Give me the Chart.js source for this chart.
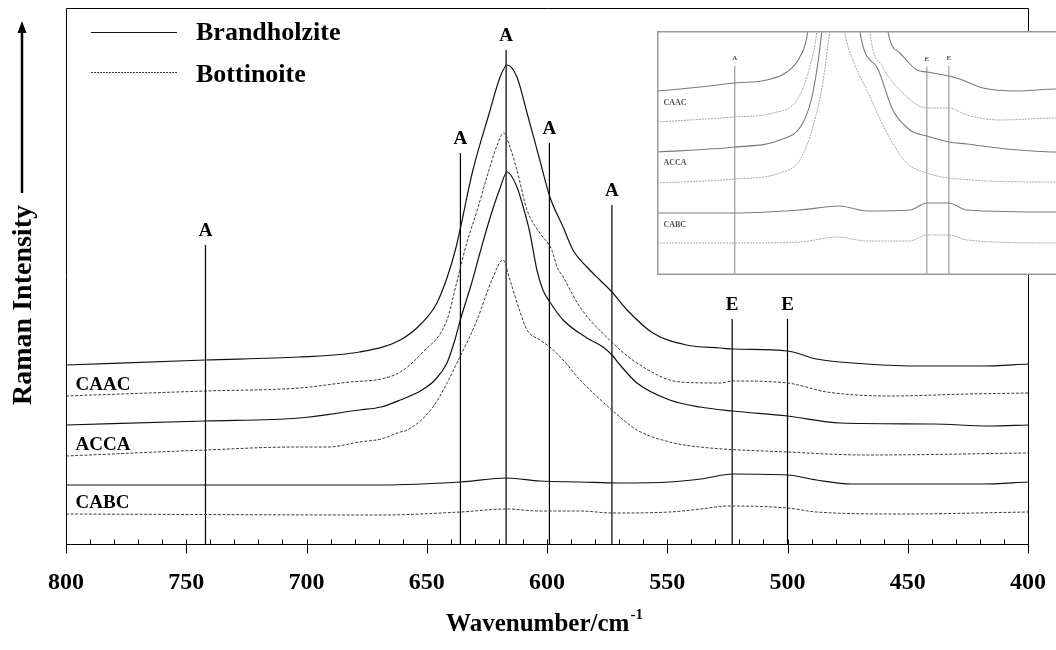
<!DOCTYPE html>
<html>
<head>
<meta charset="utf-8">
<script src="https://cdn.jsdelivr.net/npm/chart.js@4.4.0/dist/chart.umd.min.js"></script>
<style>
html,body{margin:0;padding:0;background:#fff;overflow:hidden;}
#wrap{position:relative;width:1056px;height:650px;overflow:hidden;background:#fff;}
#main{position:absolute;left:0;top:0;}
#inset{position:absolute;left:657px;top:31px;background:#fff;}
</style>
</head>
<body>
<div id="wrap">
<canvas id="main" width="1056" height="650"></canvas>
<canvas id="inset" width="420" height="244"></canvas>
</div>
<script>
// ---------------- data (wavenumber in cm-1, intensity in arbitrary offset units) ----------------
const xTickValues = [800, 750, 700, 650, 600, 550, 500, 450, 400];
const seriesNames = ['Brandholzite', 'Bottinoite'];
const sampleNames = ['CAAC', 'ACCA', 'CABC'];
const sampleLabelLevel = [159, 99, 41];

const caacBrandWave = [800,742,703,678,661,652,646,641.6,638,636,631,624,619.5,616.6,612.5,608.3,603,598.8,593.3,589.2,583.4,578,573,566.7,556,542,528,522.7,500,488,467,444,419,400];
const caacBrandInt  = [179,184,187,192,204,221,240,266,295,316,372,431,467,479,467,431,384,347,317,294,277,264,252,234,211,199,196,195,193,185,180,178,178,180];

const caacBottWave = [800,742,703,682,669,661,652,641.6,637.5,633.5,629,625,621,618,615.4,612.5,608.3,603,598,595.8,593.3,586.3,574,562.6,544.7,528,522.7,500,483.6,457,425,400];
const caacBottInt  = [148,153,156,162,165,172,191,224,262,300,334,367,397,411,397,374,334,311,294,277,267,237,204,181,162,161,163,161,152,148,150,151];

const accaBrandWave = [800,742,703,678,669,661,652,646.6,641.6,638.3,635.8,631.2,627.9,623.7,619.5,616.6,612.5,609.9,607.1,604.2,601.7,598.8,593.3,583.4,576.7,573,569.6,562.6,549,536.4,522.7,500,478,439.5,416,400];
const accaBrandInt  = [119,123,126,134,137,144,154,164,181,204,226,262,291,326,356,372,357,337,311,274,254,242,224,206,197,189,179,161,144,137,133,128,121,120,118,119];

const accaBottWave = [800,742,705,691,678,669,661,658,647.4,636.2,629.1,622.9,618.3,615.4,611.2,608.3,603,598.8,593.3,586.3,583.4,573,562.6,549,536.4,500,467,400];
const accaBottInt  = [88,94,97,97,102,105,112,114,137,187,224,264,284,264,232,214,204,197,184,164,157,134,114,102,97,92,89,91];

const cabcBrandWave = [800,700,669,636,616.6,603,586,570,549,536,522.7,500,488,473,419,400];
const cabcBrandInt  = [59,59,59,62,66,63,62,61,62,65,70,69,64,60,60,62];

const cabcBottWave = [800,669,636,616.6,603,586,573,549,536,525,500,488,453,400];
const cabcBottInt  = [30,29,32,35,33,33,31,32,35,38,36,32,30,32];

const markWave  = [742, 636, 617, 599, 573, 523, 500];
const markTop   = [299, 391, 494, 401, 339, 225, 225];
const markLabel = ['A', 'A', 'A', 'A', 'A', 'E', 'E'];

// inset (enlarged view of the baselines)
const insetCaacBrandWave = [830,781.6,742,705.8,683.2,668.5,659.4,655,614,573,568.9,555.3,536.1,524.8,499.9,487.5,461.5,423,378.9,355];
const insetCaacBrandInt  = [184,188,192,195,203,218,244,290,1500,290,244,222,205,203,199,196,187,184,186,186];
const insetCaacBottWave = [830,742,699,671.9,657.2,649.2,645,619,593,589.3,574.6,555.3,524.8,499.9,479.6,442.2,378.9,355];
const insetCaacBottInt  = [153,158,162,175,208,244,290,1500,290,244,208,185,167,167,160,155,157,157];
const insetAccaBrandWave = [830,742,691.1,665.1,653.8,643.6,640,622,604,600.6,581.4,563.3,544,524.8,499.9,479.6,434.3,378.9,355];
const insetAccaBrandInt  = [123,128,135,152,182,244,290,1500,290,244,208,165,145,139,133,131,126,123,123];
const insetAccaBottWave = [830,742,691.1,668.5,653.8,642.5,634.5,632,626,620,617.6,608.5,592.7,570,547.4,524.8,499.9,378.9,355];
const insetAccaBottInt  = [92,96,102,115,148,192,244,290,1500,290,244,215,185,142,112,102,97,93,93];
const insetCabcBrandWave = [830,742,668.5,623.2,592.7,544,524.8,499.9,479.6,378.9,355];
const insetCabcBrandInt  = [62,62,65,69,64,65,72,72,65,63,63];
const insetCabcBottWave = [830,742,668.5,625.5,592.7,544,524.8,499.9,479.6,378.9,355];
const insetCabcBottInt  = [32,32,33,38,34,34,40,40,35,32,32];
const insetMarkWave  = [742, 524.8, 499.9];
const insetMarkTop   = [209, 208, 209];
const insetMarkLabel = ['A', 'E', 'E'];
const insetLabelLevel = [172, 112, 50];

// ---------------- helpers ----------------
const SERIF = '"Liberation Serif", "Times New Roman", serif';
function pts(w, v) { return w.map((x, i) => ({ x: x, y: v[i] })); }
function curve(label, w, v, dashed, color, width, dash) {
  return {
    label: label, data: pts(w, v),
    borderColor: color, borderWidth: width,
    borderDash: dashed ? dash : [],
    pointRadius: 0, fill: false,
    cubicInterpolationMode: 'monotone'
  };
}
function mark(w, top, color, width) {
  return { label: 'mark', data: [{ x: w, y: 0 }, { x: w, y: top }],
    borderColor: color, borderWidth: width, pointRadius: 0, tension: 0, fill: false };
}

const SOLID = '#111', DOT = '#3a3a3a', DASH = [3, 1.6];

// ---------------- main chart ----------------
const mainDecor = {
  id: 'mainDecor',
  afterDraw(chart) {
    const ctx = chart.ctx, a = chart.chartArea, xs = chart.scales.x, ys = chart.scales.y;
    ctx.save();
    // frame
    ctx.strokeStyle = '#000'; ctx.lineWidth = 1;
    const L = Math.round(a.left) + 0.5, T = Math.round(a.top) + 0.5;
    const R = Math.round(a.right) + 0.5, B = Math.round(a.bottom) + 0.5;
    ctx.beginPath();
    ctx.moveTo(L, B); ctx.lineTo(L, T); ctx.lineTo(R, T); ctx.lineTo(R, B); ctx.lineTo(L, B);
    ctx.stroke();
    // ticks (major every 50, minor every 10)
    ctx.beginPath();
    for (let v = 400; v <= 800; v += 10) {
      const px = Math.round(xs.getPixelForValue(v)) + 0.5;
      const major = xTickValues.indexOf(v) >= 0;
      ctx.moveTo(px, B - 5);
      ctx.lineTo(px, B + (major ? 9 : 0));
    }
    ctx.stroke();
    // band labels
    ctx.fillStyle = '#000';
    ctx.font = 'bold 19px ' + SERIF;
    ctx.textAlign = 'center'; ctx.textBaseline = 'middle';
    markWave.forEach((w, i) => {
      ctx.fillText(markLabel[i], xs.getPixelForValue(w), ys.getPixelForValue(markTop[i]) - 14);
    });
    // sample labels
    ctx.textAlign = 'left';
    sampleNames.forEach((n, i) => {
      ctx.fillText(n, xs.getPixelForValue(796), ys.getPixelForValue(sampleLabelLevel[i]));
    });
    // legend
    ctx.lineWidth = 1.2; ctx.strokeStyle = SOLID; ctx.setLineDash([]);
    ctx.beginPath(); ctx.moveTo(91, 32.5); ctx.lineTo(177, 32.5); ctx.stroke();
    ctx.lineWidth = 1; ctx.strokeStyle = DOT; ctx.setLineDash([2, 1]);
    ctx.beginPath(); ctx.moveTo(91, 72.5); ctx.lineTo(177, 72.5); ctx.stroke();
    ctx.setLineDash([]);
    ctx.font = 'bold 26px ' + SERIF;
    ctx.fillText(seriesNames[0], 196, 33);
    ctx.fillText(seriesNames[1], 196, 75);
    // x title with superscript
    const t1 = 'Wavenumber/cm', t2 = '-1';
    const f1 = 'bold 25px ' + SERIF, f2 = 'bold 15px ' + SERIF;
    ctx.font = f1; const w1 = ctx.measureText(t1).width;
    ctx.font = f2; const w2 = ctx.measureText(t2).width;
    const x0 = 544 - (w1 + w2) / 2;
    ctx.textBaseline = 'alphabetic';
    ctx.font = f1; ctx.fillText(t1, x0, 631);
    ctx.font = f2; ctx.fillText(t2, x0 + w1 + 1, 619);
    // y title + arrow
    ctx.save();
    ctx.translate(24, 305); ctx.rotate(-Math.PI / 2);
    ctx.font = 'bold 28px ' + SERIF; ctx.textAlign = 'center'; ctx.textBaseline = 'middle';
    ctx.fillText('Raman Intensity', 0, 0);
    ctx.restore();
    ctx.strokeStyle = '#000'; ctx.lineWidth = 2.5;
    ctx.beginPath(); ctx.moveTo(22, 193); ctx.lineTo(22, 30); ctx.stroke();
    ctx.fillStyle = '#000';
    ctx.beginPath(); ctx.moveTo(22, 21); ctx.lineTo(17.5, 33); ctx.lineTo(26.5, 33); ctx.closePath(); ctx.fill();
    ctx.restore();
  }
};

const mainDatasets = [
  curve('Brandholzite CAAC', caacBrandWave, caacBrandInt, false, SOLID, 1.2),
  curve('Bottinoite CAAC', caacBottWave, caacBottInt, true, DOT, 1, DASH),
  curve('Brandholzite ACCA', accaBrandWave, accaBrandInt, false, SOLID, 1.2),
  curve('Bottinoite ACCA', accaBottWave, accaBottInt, true, DOT, 1, DASH),
  curve('Brandholzite CABC', cabcBrandWave, cabcBrandInt, false, SOLID, 1.2),
  curve('Bottinoite CABC', cabcBottWave, cabcBottInt, true, DOT, 1, DASH)
].concat(markWave.map((w, i) => mark(w, markTop[i], '#000', 1.2)));

new Chart(document.getElementById('main'), {
  type: 'line',
  data: { datasets: mainDatasets },
  options: {
    responsive: false, animation: false, devicePixelRatio: 1, events: [],
    layout: { padding: { left: 66, right: 28, top: 8, bottom: 0 } },
    plugins: { legend: { display: false }, tooltip: { enabled: false } },
    scales: {
      x: {
        type: 'linear', reverse: true, min: 400, max: 800,
        grid: { display: false, drawTicks: true, tickLength: 24 }, border: { display: false },
        afterBuildTicks: (s) => { s.ticks = xTickValues.map(v => ({ value: v })); },
        ticks: { padding: 0, maxRotation: 0, autoSkip: false, color: '#000',
          font: { family: SERIF, size: 24, weight: 'bold' } },
        afterFit: (s) => { s.height = 106; }
      },
      y: { display: false, min: 0, max: 536 }
    }
  },
  plugins: [mainDecor]
});

// ---------------- inset chart ----------------
const ISOLID = '#7a7a7a', IDOT = '#a8a8a8';
const insetDecor = {
  id: 'insetDecor',
  beforeDraw(chart) {
    const ctx = chart.ctx; ctx.save(); ctx.fillStyle = '#fff';
    ctx.fillRect(0, 0, chart.width, chart.height); ctx.restore();
  },
  afterDraw(chart) {
    const ctx = chart.ctx, xs = chart.scales.x, ys = chart.scales.y;
    ctx.save();
    ctx.strokeStyle = '#9a9a9a'; ctx.lineWidth = 1.5;
    ctx.strokeRect(0.75, 0.75, chart.width + 10, chart.height - 1.5);
    ctx.fillStyle = '#555';
    ctx.font = 'bold 7px ' + SERIF; ctx.textAlign = 'center'; ctx.textBaseline = 'middle';
    insetMarkWave.forEach((w, i) => {
      ctx.fillText(insetMarkLabel[i], xs.getPixelForValue(w), ys.getPixelForValue(insetMarkTop[i]) - 8);
    });
    ctx.font = 'bold 8px ' + SERIF; ctx.textAlign = 'left';
    sampleNames.forEach((n, i) => {
      ctx.fillText(n, xs.getPixelForValue(822.7), ys.getPixelForValue(insetLabelLevel[i]));
    });
    ctx.restore();
  }
};

const insetDatasets = [
  curve('Brandholzite CAAC', insetCaacBrandWave, insetCaacBrandInt, false, ISOLID, 1.1),
  curve('Bottinoite CAAC', insetCaacBottWave, insetCaacBottInt, true, IDOT, 1, [2, 1]),
  curve('Brandholzite ACCA', insetAccaBrandWave, insetAccaBrandInt, false, ISOLID, 1.1),
  curve('Bottinoite ACCA', insetAccaBottWave, insetAccaBottInt, true, IDOT, 1, [2, 1]),
  curve('Brandholzite CABC', insetCabcBrandWave, insetCabcBrandInt, false, ISOLID, 1.1),
  curve('Bottinoite CABC', insetCabcBottWave, insetCabcBottInt, true, IDOT, 1, [2, 1])
].concat(insetMarkWave.map((w, i) => mark(w, insetMarkTop[i], '#888', 1)));

new Chart(document.getElementById('inset'), {
  type: 'line',
  data: { datasets: insetDatasets },
  options: {
    responsive: false, animation: false, devicePixelRatio: 1, events: [],
    layout: { padding: 0 },
    plugins: { legend: { display: false }, tooltip: { enabled: false } },
    scales: {
      x: { type: 'linear', display: false, reverse: true, min: 355, max: 830 },
      y: { display: false, min: 0, max: 244 }
    }
  },
  plugins: [insetDecor]
});
</script>
</body>
</html>
